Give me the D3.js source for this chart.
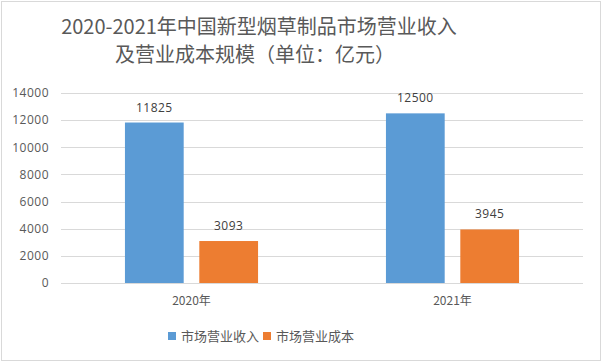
<!DOCTYPE html>
<html lang="zh">
  <head>
    <meta charset="utf-8">
    <script type="text/javascript" src="https://cdn.jsdelivr.net/npm/d3@7/dist/d3.min.js"></script>
    <style>
      body{ margin:0; background:#fff; }
      text{ font-family:"Noto Sans CJK SC","Noto Sans",sans-serif; fill:#595959; }
    </style>
  </head>
  <body>
    <svg></svg>
  </body>
  <script type="text/javascript">

    var years = ['2020年','2021年'];
    var seriesNames = ['市场营业收入','市场营业成本'];
    var revenue = [11825, 12500];
    var cost = [3093, 3945];
    var yTicks = [0,2000,4000,6000,8000,10000,12000,14000];
    var colors = ['#5b9bd5','#ed7d31'];

    var svgwidth = 602;
    var svgheight = 362;

    var svg = d3.select('svg')
                .attr('width',svgwidth)
                .attr('height',svgheight);

    svg.append('rect')
       .attr('x',1.5).attr('y',1.5)
       .attr('width',svgwidth-3).attr('height',svgheight-3)
       .attr('fill','#fff')
       .attr('stroke','#d9d9d9');

    var margins = {top:93, bottom:79, left:61, right:19};
    var width = svgwidth - margins.left - margins.right;
    var height = svgheight - margins.top - margins.bottom;

    // title
    var title = svg.append('text')
       .attr('text-anchor','middle')
       .style('font-size','20px')
       .style('fill','#595959');
    title.append('tspan').attr('x',259).attr('y',34).text('2020-2021年中国新型烟草制品市场营业收入');
    title.append('tspan').attr('x',255).attr('y',62).text('及营业成本规模（单位：亿元）');

    var yScale = d3.scaleLinear()
                   .domain([0,14000])
                   .range([height,0]);

    var xScale = d3.scaleBand()
                   .domain(years)
                   .range([0,width])
                   .paddingInner(0.49)
                   .paddingOuter(0.245);

    var inner = d3.scaleBand()
                  .domain([0,1])
                  .range([0,xScale.bandwidth()])
                  .paddingInner(0.21);

    var plot = svg.append('g')
                  .attr('transform','translate('+margins.left+','+margins.top+')');

    // grid lines
    plot.selectAll('.grid')
        .data(yTicks)
        .enter()
        .append('line')
        .attr('x1',0)
        .attr('x2',width)
        .attr('y1',function(d){ return Math.round(yScale(d))+0.5; })
        .attr('y2',function(d){ return Math.round(yScale(d))+0.5; })
        .attr('stroke','#d9d9d9')
        .attr('stroke-width',1);

    var yAxis = d3.axisLeft(yScale).tickValues(yTicks).tickFormat(d3.format('d'))
                  .tickSize(0).tickPadding(12);
    var yg = plot.append('g').call(yAxis);
    yg.select('.domain').remove();
    yg.selectAll('text').style('font-size','12px').style('fill','#595959')
      .style('letter-spacing','0.5px')
      .style('font-family','"Open Sans",sans-serif');

    var xAxis = d3.axisBottom(xScale).tickSize(0).tickPadding(13);
    var xg = plot.append('g').attr('transform','translate(0,'+height+')').call(xAxis);
    xg.select('.domain').remove();
    xg.selectAll('text').style('font-size','12px').style('fill','#595959');

    var series = [revenue, cost];

    series.forEach(function(vals,s){
      var g = plot.append('g');
      g.selectAll('rect')
       .data(vals)
       .enter()
       .append('rect')
       .attr('x',function(d,i){ return xScale(years[i]) + inner(s); })
       .attr('y',function(d){ return yScale(d); })
       .attr('width',inner.bandwidth())
       .attr('height',function(d){ return height - yScale(d); })
       .attr('fill',colors[s]);

      g.selectAll('text')
       .data(vals)
       .enter()
       .append('text')
       .attr('x',function(d,i){ return xScale(years[i]) + inner(s) + inner.bandwidth()/2; })
       .attr('y',function(d){ return yScale(d) - 11; })
       .attr('text-anchor','middle')
       .style('font-size','12px')
       .style('font-family','"Open Sans",sans-serif')
       .style('letter-spacing','0.5px')
       .style('fill','#404040')
       .text(function(d){ return d; });
    });

    // legend
    var legend = svg.append('g');
    var lx = [168, 263];
    seriesNames.forEach(function(name,i){
      legend.append('rect')
            .attr('x',lx[i]).attr('y',332)
            .attr('width',8).attr('height',8)
            .attr('fill',colors[i]);
      legend.append('text')
            .attr('x',lx[i]+13).attr('y',341)
            .style('font-size','13px')
            .text(name);
    });

  </script>
</html>
